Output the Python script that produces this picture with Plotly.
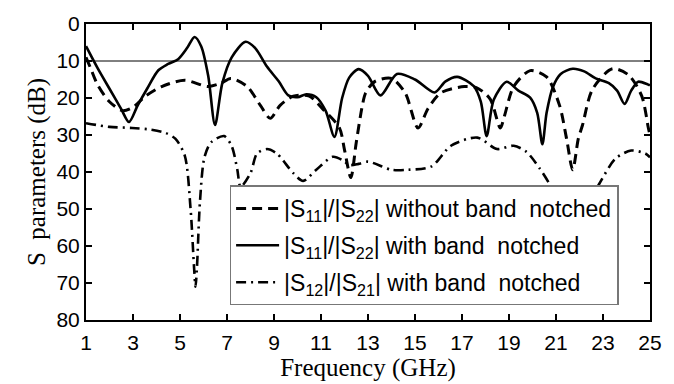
import plotly.graph_objects as go

# ---- data ----
x_ticks = [1, 3, 5, 7, 9, 11, 13, 15, 17, 19, 21, 23, 25]
y_ticks = [0, 10, 20, 30, 40, 50, 60, 70, 80]

f_no_notch = [1, 1.2, 1.5, 2.0, 2.55, 3.0, 3.53, 4.22, 5.2, 6.18, 6.74, 7.16, 7.86, 8.42, 8.84,
              9.26, 9.82, 10.5, 11.08, 11.78, 12.0, 12.27, 12.5, 12.76, 12.9, 13.3, 14.0, 14.58,
              15.13, 15.55, 16.1, 17.1, 17.65, 18.2, 18.63, 18.8, 19.2, 19.9, 20.6, 21.15, 21.45,
              21.71, 21.95, 22.13, 22.55, 23.4, 24.09, 24.65, 24.93, 25]
s11_no_notch = [9, 12, 16.5, 21, 23.4, 22.5, 19.5, 16.9, 15.2, 16.9, 16, 14.7, 16.9, 22, 25.5,
                22, 19.5, 19.5, 23, 28, 34, 41.5, 32, 22, 18.6, 15.5, 14.7, 18.6,
                28.1, 22.9, 18.6, 16.9, 17.3, 20.3, 28.1, 25, 16.9, 12.6, 14.3, 22, 31,
                39.4, 31, 27.3, 17.7, 12.1, 13.8, 19.5, 28.1, 30]

f_notch = [1, 1.5, 2, 2.5, 2.83, 3.2, 3.6, 4.08, 4.5, 4.92, 5.3, 5.62, 5.9, 6.2, 6.49, 6.8, 7.2,
           7.79, 8.2, 8.7, 9.2, 9.61, 10.0, 10.38, 10.8, 11.2, 11.57, 11.9, 12.2, 12.6, 13.0,
           13.53, 14.23, 15.0, 15.83, 16.3, 16.8, 17.5, 17.8, 18.05, 18.35, 18.9, 19.4, 19.9,
           20.2, 20.42, 20.6, 20.87, 21.2, 21.71, 22.2, 22.69, 23.25, 23.6, 23.92, 24.2, 24.5,
           24.93, 25]
s11_notch = [6, 12, 17.5, 23, 26.5, 22, 17.5, 12.5, 10.8, 9.5, 6.5, 3.5, 6, 14, 27.3, 16, 9,
             4.8, 6.5, 11.5, 15.5, 19.3, 19.8, 19.0, 19.8, 23.5, 30.5, 20, 14.5, 12.2, 14,
             19.3, 13.5, 15, 18.5, 15.5, 14.3, 16.8, 21, 30.3, 20.5, 15.6, 18.0, 19.9,
             24, 32.5, 24, 17, 13.5, 12.1, 12.8, 14.7, 16, 18, 21.6, 18, 15.6,
             16.4, 16.5]

f_s12 = [1, 2, 2.96, 3.7, 4.37, 4.8, 5.2, 5.45, 5.6, 5.66, 5.72, 5.85, 6.04, 6.32, 6.88, 7.2,
         7.44, 7.58, 8.0, 8.28, 8.7, 9.12, 9.82, 10.24, 10.8, 11.5, 11.92, 12.2, 12.6, 13.0,
         14.0, 14.7, 15.7, 16.53, 17.65, 18.49, 19.2, 19.75, 20.3, 20.73, 21.2, 21.8, 22.4,
         22.83, 23.53, 24.2, 24.8, 25]
s12_notch = [26.8, 27.8, 28.1, 28.5, 29.4, 31, 35.5, 50, 66, 71, 66, 48, 36, 32, 30.3, 33,
             39.4, 44, 40.3, 35, 33.8, 35, 40.3, 42.4, 39.4, 35.9, 36.8, 38.1, 37.8, 37.2,
             39.4, 39.4, 38.5, 32.9, 30.7, 33.8, 32.9, 34.6, 39, 43.3, 49, 51, 48,
             43.3, 36.4, 34.2, 35, 36]

names = ["|S<sub>11</sub>|/|S<sub>22</sub>| without band  notched",
         "|S<sub>11</sub>|/|S<sub>22</sub>| with band  notched",
         "|S<sub>12</sub>|/|S<sub>21</sub>| with band  notched"]

fig = go.Figure()
fig.add_trace(go.Scatter(x=f_no_notch, y=s11_no_notch, mode="lines", name=names[0], legendgroup="a",
                         line=dict(color="black", width=3, dash="10px,6px", shape="spline", smoothing=0.8)))
fig.add_trace(go.Scatter(x=f_notch, y=s11_notch, mode="lines", name=names[1], legendgroup="b",
                         line=dict(color="black", width=2.6, shape="spline", smoothing=0.8)))
fig.add_trace(go.Scatter(x=f_s12, y=s12_notch, mode="lines", name=names[2], legendgroup="c",
                         line=dict(color="black", width=2.6, dash="10px,5px,2px,5px", shape="spline", smoothing=0.8)))

# 10 dB reference line
fig.add_shape(type="line", xref="paper", x0=0, x1=1, yref="y", y0=10, y1=10,
              line=dict(color="black", width=1), layer="below")

tick_font = dict(family="Liberation Sans, Arial, sans-serif", size=21, color="black")
title_font = dict(family="Liberation Serif, Times New Roman, serif", size=25, color="black")

fig.update_xaxes(range=[1, 25], tickvals=x_ticks, ticktext=[str(v) for v in x_ticks],
                 ticks="inside", ticklen=6, tickwidth=2, tickcolor="black",
                 showline=True, linecolor="black", linewidth=2, mirror="ticks",
                 showgrid=False, zeroline=False, tickfont=tick_font, ticklabelstandoff=3,
                 title=dict(text="Frequency (GHz)", font=title_font, standoff=0))
fig.update_yaxes(range=[80, 0], tickvals=y_ticks, ticktext=[str(v) for v in y_ticks],
                 ticks="inside", ticklen=6, tickwidth=2, tickcolor="black",
                 showline=True, linecolor="black", linewidth=2, mirror="ticks",
                 showgrid=False, zeroline=False, tickfont=tick_font,
                 title=dict(text="S  parameters (dB)", font=title_font, standoff=4))

fig.update_layout(
    width=674, height=384,
    margin=dict(l=86, r=16, t=20, b=56),
    plot_bgcolor="white", paper_bgcolor="white",
    showlegend=True,
    legend=dict(x=0.2546, y=0.4545, xanchor="left", yanchor="top",
                bgcolor="white", bordercolor="#777777", borderwidth=1.5,
                font=dict(family="Liberation Sans, Arial, sans-serif", size=23, color="black"),
                itemwidth=43, tracegroupgap=4),
)

fig.write_html("out.html")
